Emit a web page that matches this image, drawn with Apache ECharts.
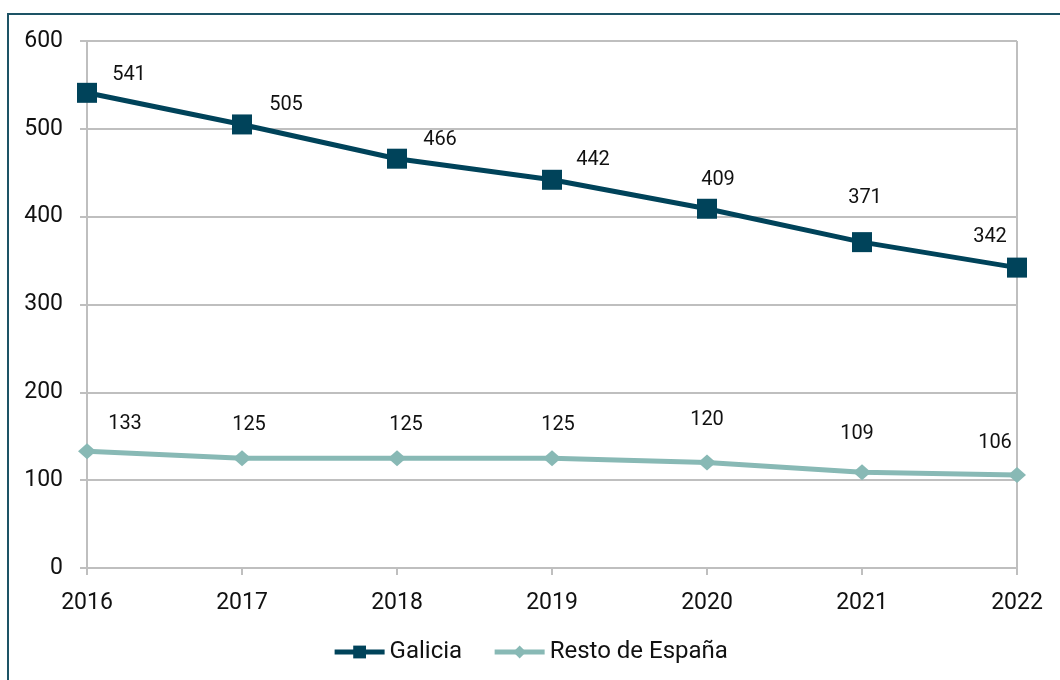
<!DOCTYPE html>
<html>
<head>
<meta charset="utf-8">
<script src="https://cdn.jsdelivr.net/npm/echarts@6/dist/echarts.min.js"></script>
<style>
  html, body { margin: 0; padding: 0; background: #fff; }
  #frame {
    position: absolute; left: 7px; top: 13px; width: 1060px; height: 680px;
    border-top: 2px solid #1d5365; border-left: 2px solid #1d5365;
  }
  #chart { position: absolute; left: 0; top: 0; width: 1060px; height: 680px; }
</style>
</head>
<body>
<div id="frame"></div>
<div id="chart"></div>
<script>
const years = ['2016', '2017', '2018', '2019', '2020', '2021', '2022'];
const galicia = [541, 505, 466, 442, 409, 371, 342];
const resto = [133, 125, 125, 125, 120, 109, 106];
const yTicks = [0, 100, 200, 300, 400, 500, 600];

// where each value label sits relative to its point
const galiciaLabelShift = [[42, -18], [44, -19], [43, -19], [41, -20], [11, -29], [3, -44], [-27, -31]];
const restoLabelShift = [[38, -27], [7, -33], [9, -33], [6, -33], [0, -43], [-5, -38], [-22, -32]];

const font = 'Roboto';

function withLabels(values, shifts) {
  return values.map((v, i) => ({ value: v, label: { offset: shifts[i] } }));
}

const chart = echarts.init(document.getElementById('chart'));
chart.setOption({
  animation: false,
  textStyle: { fontFamily: font },
  grid: { left: 87, right: 43, top: 41, bottom: 112, containLabel: false },
  legend: {
    bottom: 11,
    left: 'center',
    itemWidth: 50,
    itemHeight: 16,
    itemGap: 30,
    lineStyle: { width: 5 },
    textStyle: { fontFamily: font, fontSize: 24, color: '#111' },
    data: ['Galicia', 'Resto de España']
  },
  xAxis: {
    type: 'category',
    data: years,
    boundaryGap: false,
    axisLine: { lineStyle: { color: '#bfbfbf', width: 2 } },
    axisTick: { show: true, length: 7, lineStyle: { color: '#bfbfbf', width: 2 } },
    axisLabel: { fontSize: 23, color: '#111', margin: 24 },
    splitLine: {
      show: true,
      interval: (i) => i === years.length - 1,
      lineStyle: { color: '#bfbfbf', width: 2 }
    }
  },
  yAxis: {
    type: 'value',
    min: yTicks[0],
    max: yTicks[yTicks.length - 1],
    interval: 100,
    axisLine: { show: true, lineStyle: { color: '#bfbfbf', width: 2 } },
    axisTick: { show: true, length: 7, lineStyle: { color: '#bfbfbf', width: 2 } },
    axisLabel: { fontSize: 23, color: '#111', margin: 24 },
    splitLine: { show: true, lineStyle: { color: '#bfbfbf', width: 2 } }
  },
  series: [
    {
      name: 'Galicia',
      type: 'line',
      data: withLabels(galicia, galiciaLabelShift),
      symbol: 'rect',
      symbolSize: 20,
      itemStyle: { color: '#00435a' },
      lineStyle: { color: '#00435a', width: 5 },
      label: { show: true, position: 'inside', fontSize: 20, color: '#111', fontFamily: font },
      z: 3
    },
    {
      name: 'Resto de España',
      type: 'line',
      data: withLabels(resto, restoLabelShift),
      symbol: 'diamond',
      symbolSize: [18, 16],
      itemStyle: { color: '#88b9b5' },
      lineStyle: { color: '#88b9b5', width: 5 },
      label: { show: true, position: 'inside', fontSize: 20, color: '#111', fontFamily: font },
      z: 2
    }
  ]
});
</script>
</body>
</html>
